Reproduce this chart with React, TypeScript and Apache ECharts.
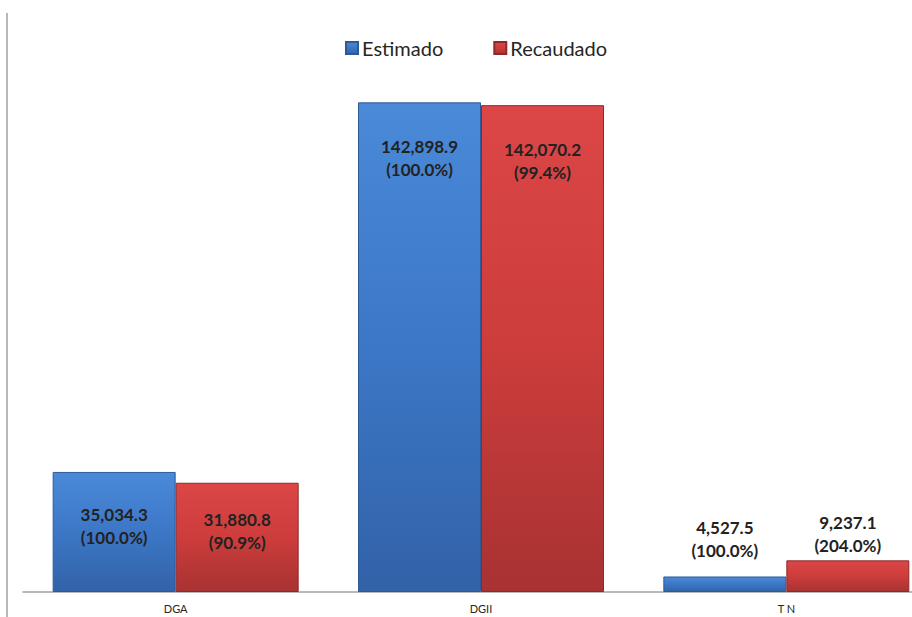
import React, { useEffect, useRef } from "react";
import * as echarts from "echarts";

const categories = ["DGA", "DGII", "T N"];
const estimado = [35034.3, 142898.9, 4527.5];
const recaudado = [31880.8, 142070.2, 9237.1];
const estimadoPct = [100.0, 100.0, 100.0];
const recaudadoPct = [90.9, 99.4, 204.0];
const labelPositions = ["inside", "insideTop", "top"];
const labelOffsets = [[0, -6], [0, 0], [0, 0]];
const estimadoLabelDistance = [0, 33, 14];
const recaudadoLabelDistance = [0, 33, 3];

const fmt = (v: number) =>
  v.toLocaleString("en-US", { minimumFractionDigits: 1, maximumFractionDigits: 1 });

const blueGrad = new echarts.graphic.LinearGradient(0, 0, 0, 1, [
  { offset: 0, color: "#4a8ad9" },
  { offset: 0.5, color: "#3c77c6" },
  { offset: 1, color: "#3262a8" },
]);
const redGrad = new echarts.graphic.LinearGradient(0, 0, 0, 1, [
  { offset: 0, color: "#dc4646" },
  { offset: 0.5, color: "#cc3d3c" },
  { offset: 1, color: "#a83232" },
]);

function buildData(values: number[], pcts: number[], dists: number[]) {
  return values.map((v, i) => ({
    value: v,
    label: {
      position: labelPositions[i],
      distance: dists[i],
      offset: labelOffsets[i],
      formatter: () => `${fmt(v)}\n(${pcts[i].toFixed(1)}%)`,
    },
  }));
}

export default function App() {
  const ref = useRef<HTMLDivElement>(null);
  useEffect(() => {
    if (!ref.current) return;
    const chart = echarts.init(ref.current, undefined, { renderer: "svg" });
    const labelStyle = {
      show: true,
      fontFamily: "Lato",
      fontWeight: "bold",
      fontSize: 17,
      lineHeight: 23,
      color: "#222222",
    };
    chart.setOption({
      animation: false,
      backgroundColor: "#ffffff",
      legend: {
        top: 33,
        left: 340,
        itemWidth: 12,
        itemHeight: 12,
        itemGap: 50,
        icon: "rect",
        textStyle: { fontFamily: "Lato", fontSize: 20, color: "#262626", padding: [0, 0, 0, -1] },
        data: ["Estimado", "Recaudado"],
      },
      grid: { left: 23, top: 78, width: 916, height: 514 },
      xAxis: {
        type: "category",
        data: categories,
        axisLine: { show: true, lineStyle: { color: "#a0a0a0", width: 1.5 } },
        axisTick: { show: false },
        axisLabel: { fontFamily: "Lato", fontSize: 11, color: "#262626", margin: 11 },
      },
      yAxis: {
        type: "value",
        min: 0,
        max: 150000,
        show: false,
        splitLine: { show: false },
      },
      graphic: [
        {
          type: "line",
          shape: { x1: 7, y1: 13, x2: 7, y2: 617 },
          style: { stroke: "#a0a0a0", lineWidth: 1.5 },
        },
      ],
      series: [
        {
          name: "Estimado",
          type: "bar",
          barWidth: 123,
          barGap: "0%",
          itemStyle: { color: blueGrad, borderColor: "#2d5a96", borderWidth: 1 },
          label: labelStyle,
          data: buildData(estimado, estimadoPct, estimadoLabelDistance),
        },
        {
          name: "Recaudado",
          type: "bar",
          barWidth: 123,
          barGap: "0%",
          itemStyle: { color: redGrad, borderColor: "#8c2a2a", borderWidth: 1 },
          label: labelStyle,
          data: buildData(recaudado, recaudadoPct, recaudadoLabelDistance),
        },
      ],
    });
    return () => chart.dispose();
  }, []);
  return (
    <div style={{ width: 912, height: 617, position: "absolute", left: 0, top: 0, overflow: "hidden" }}>
      <div ref={ref} style={{ width: 940, height: 617 }} />
    </div>
  );
}
